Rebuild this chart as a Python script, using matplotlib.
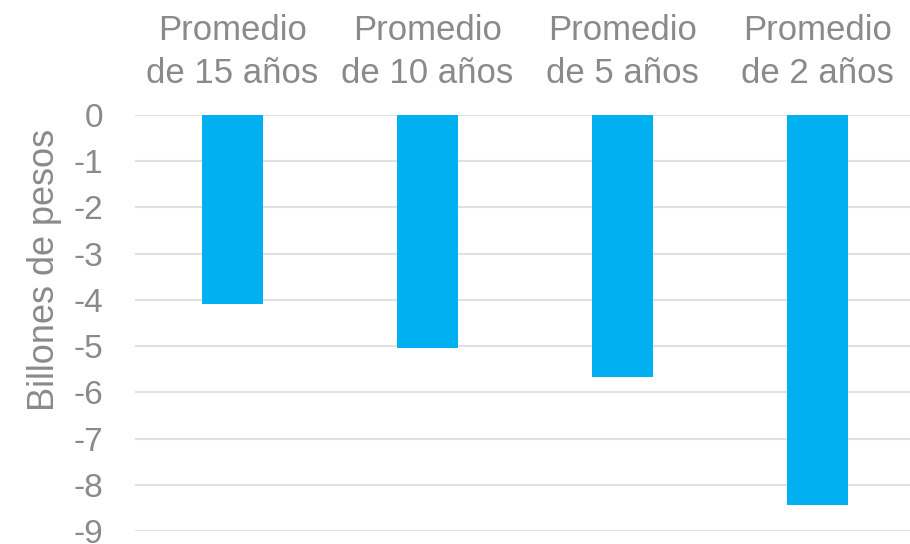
import matplotlib.pyplot as plt

# promedios del balance, billones de pesos
periodos = ["Promedio\nde 15 años", "Promedio\nde 10 años", "Promedio\nde 5 años", "Promedio\nde 2 años"]
valores = [-4.09, -5.04, -5.67, -8.43]
ticks_y = [0, -1, -2, -3, -4, -5, -6, -7, -8, -9]

gris = "#8a8a8a"
plt.rcParams['font.family'] = ['Liberation Sans', 'DejaVu Sans']

fig = plt.figure(figsize=(9.1, 5.44), dpi=100)
ax = fig.add_axes([135/910, 1 - 531/544, 780/910, 416/544])

x = range(len(periodos))
ax.bar(x, valores, width=0.31, color="#00b0f0", zorder=3)

ax.set_xlim(-0.5, len(periodos) - 0.5)
ax.set_ylim(-9, 0)
ax.set_yticks(ticks_y)
ax.set_yticklabels([str(t) for t in ticks_y], fontsize=24, color=gris)
ax.yaxis.grid(True, color="#e0e0e0", linewidth=1.5, zorder=0)
ax.tick_params(axis='y', length=0, pad=23)

ax.xaxis.tick_top()
ax.set_xticks(list(x))
ax.set_xticklabels(periodos, fontsize=25, color=gris, linespacing=1.4)
ax.tick_params(axis='x', length=0, pad=18)

for s in ax.spines.values():
    s.set_visible(False)

ax.set_ylabel("Billones de pesos", fontsize=26, color=gris)
ax.yaxis.set_label_coords(-0.094, 0.627)

fig.savefig("out.png", dpi=100)
